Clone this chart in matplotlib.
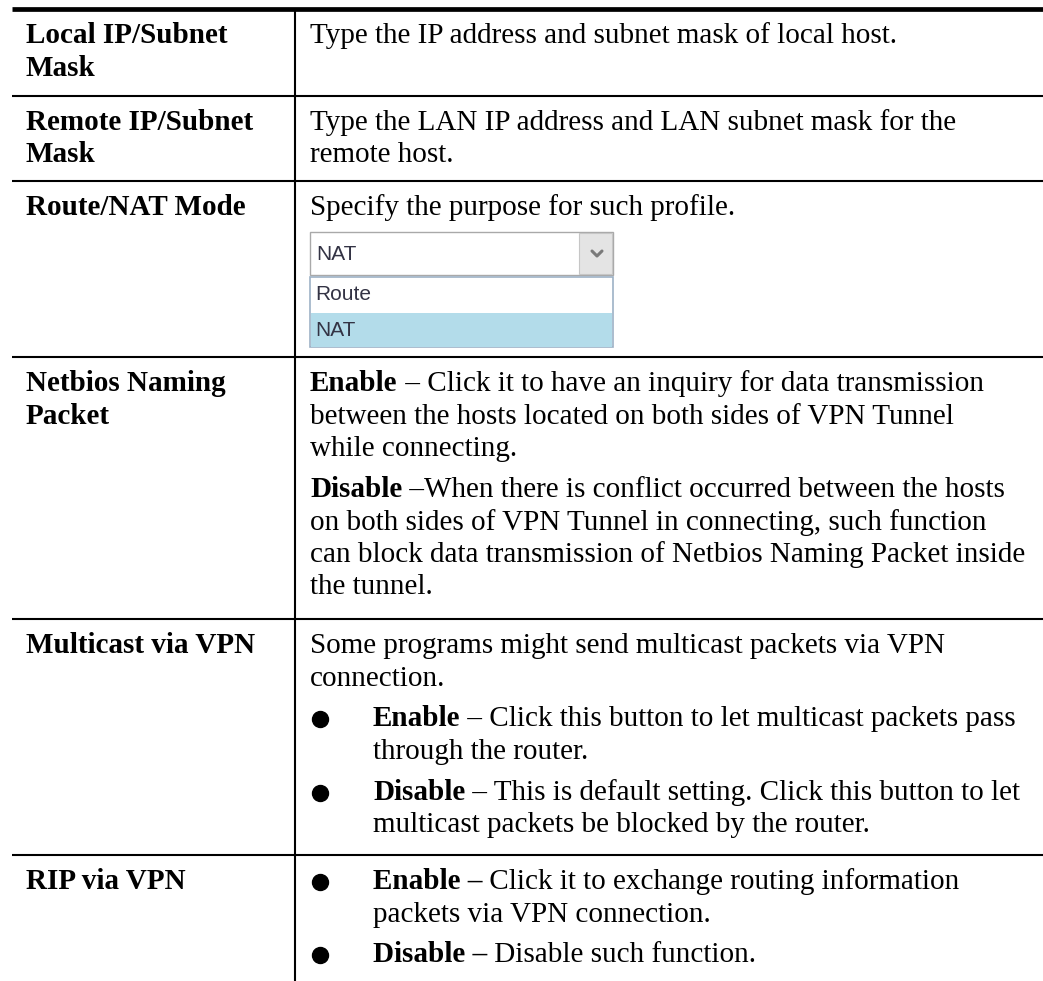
import matplotlib
matplotlib.use("Agg")
import matplotlib.pyplot as plt
from matplotlib.patches import Rectangle

# table content
labels = [
    ["Local IP/Subnet", "Mask"],
    ["Remote IP/Subnet", "Mask"],
    ["Route/NAT Mode"],
    ["Netbios Naming", "Packet"],
    ["Multicast via VPN"],
    ["RIP via VPN"],
]

# each paragraph: (bullet, bold prefix, first line rest, following lines)
cells = [
    [(False, "", "Type the IP address and subnet mask of local host.", [])],
    [(False, "", "Type the LAN IP address and LAN subnet mask for the", ["remote host."])],
    [(False, "", "Specify the purpose for such profile.", [])],
    [(False, "Enable", " \u2013 Click it to have an inquiry for data transmission",
      ["between the hosts located on both sides of VPN Tunnel", "while connecting."]),
     (False, "Disable", " \u2013When there is conflict occurred between the hosts",
      ["on both sides of VPN Tunnel in connecting, such function",
       "can block data transmission of Netbios Naming Packet inside",
       "the tunnel."])],
    [(False, "", "Some programs might send multicast packets via VPN", ["connection."]),
     (True, "Enable", " \u2013 Click this button to let multicast packets pass",
      ["through the router."]),
     (True, "Disable", " \u2013 This is default setting. Click this button to let",
      ["multicast packets be blocked by the router."])],
    [(True, "Enable \u2013", " Click it to exchange routing information",
      ["packets via VPN connection."]),
     (True, "Disable \u2013", " Disable such function.", [])],
]

select_value = "NAT"
select_options = ["Route", "NAT"]
selected = "NAT"

# layout (image pixels)
W, H = 1043, 981
row_lines = [9, 96, 181, 357, 619, 855]
x_left, x_div = 12, 295
x_label, x_text = 26, 310
x_bullet, x_btext = 320, 373
first_off = 34
line_h = 32.5
para_gap = 41
fs = 21
serif = "Liberation Serif"

fig = plt.figure(figsize=(W / 100, H / 100), dpi=100)
ax = fig.add_axes([0, 0, 1, 1])
ax.set_xlim(0, W)
ax.set_ylim(H, 0)
ax.axis("off")
renderer = fig.canvas.get_renderer()

# grid lines
ax.plot([x_left, W], [row_lines[0]] * 2, color="black", lw=3.4, solid_capstyle="butt")
for y in row_lines[1:]:
    ax.plot([x_left, W], [y, y], color="black", lw=1.5, solid_capstyle="butt")
ax.plot([x_div, x_div], [row_lines[0], H], color="black", lw=1.5, solid_capstyle="butt")


def put(x, y, s, bold=False):
    t = ax.text(x, y, s, fontsize=fs, family=serif, va="baseline", ha="left",
                fontweight="bold" if bold else "normal", color="black")
    return t


for i, (lab, paras) in enumerate(zip(labels, cells)):
    top = row_lines[i]
    y = top + first_off
    for k, s in enumerate(lab):
        put(x_label, y + k * line_h, s, bold=True)
    for j, (bullet, bold, rest, more) in enumerate(paras):
        if j > 0:
            y += para_gap
        x0 = x_btext if bullet else x_text
        if bullet:
            ax.plot(x_bullet, y - 7.5, "o", color="black", ms=11.5)
        x = x0
        if bold:
            t = put(x, y, bold, bold=True)
            x += t.get_window_extent(renderer).width
        put(x, y, rest)
        for s in more:
            y += line_h
            put(x0, y, s)

# drop-down control in the Route/NAT row
sx0, sx1 = 310, 613
ax.add_patch(Rectangle((sx0, 232), sx1 - sx0, 43, facecolor="white", edgecolor="#a9a9a9", lw=1))
ax.add_patch(Rectangle((579, 233), sx1 - 579 - 1, 41, facecolor="#e4e4e4", edgecolor="#c6c6c6", lw=0.8))
ax.plot([592, 597, 602], [251, 256, 251], color="#7a7a7a", lw=2.2, solid_capstyle="round")
ax.text(316, 254, select_value, fontsize=15, family="Liberation Sans", va="center", color="#333344")

ax.add_patch(Rectangle((sx0, 277), sx1 - sx0, 70, facecolor="white", edgecolor="#9db1c6", lw=1.2))
for k, opt in enumerate(select_options):
    yc = 295 + k * 35
    if opt == selected:
        ax.add_patch(Rectangle((sx0 + 1, yc - 17), sx1 - sx0 - 2, 34, facecolor="#b3dcea", edgecolor="none"))
    ax.text(315, yc, opt, fontsize=15, family="Liberation Sans", va="center", color="#333344")

fig.savefig("out.png", dpi=100)
